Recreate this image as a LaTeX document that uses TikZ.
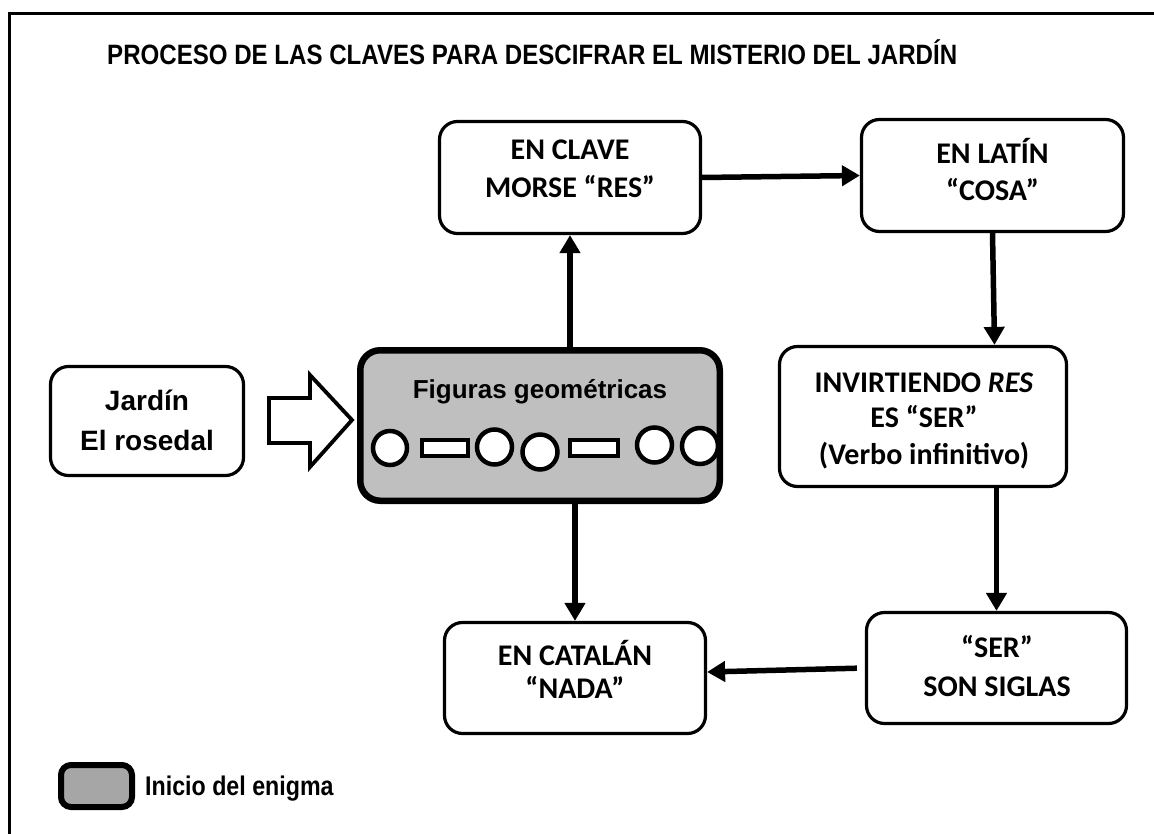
\documentclass[tikz,border=0pt]{standalone}
\usepackage{fontspec}
\setmainfont{Liberation Sans}
\newfontfamily\narrowfont{Liberation Sans}[FakeStretch=0.86]
\newfontfamily\legfont{Liberation Sans}[FakeStretch=0.86]
\newfontfamily\calfont{Carlito}
\usetikzlibrary{arrows.meta,calc}
\definecolor{boxgray}{HTML}{BFBFBF}
\definecolor{legendgray}{HTML}{A6A6A6}
\begin{document}
\begin{tikzpicture}[x=1pt,y=-1pt,
  box/.style={draw, line width=3.2pt, rounded corners=18pt, fill=white, inner sep=0pt},
  boxtxt/.style={inner sep=0pt, anchor=base, font=\calfont\bfseries\fontsize{30}{36}\selectfont},
  sanstxt/.style={inner sep=0pt, anchor=base, font=\bfseries\fontsize{28}{40}\selectfont},
  arr/.style={line width=5.5pt, -{Triangle[length=18pt,width=20pt]}},
  figshape/.style={line width=4.5pt, draw=black, fill=white}
]
\useasboundingbox (0,0) rectangle (1154,834);
% outer frame (only top and left visible)
\draw[line width=3pt] (9,850) -- (9,14) -- (1170,14);
% title
\node[inner sep=0pt, anchor=base west, font=\narrowfont\bfseries\fontsize{28}{32}\selectfont] (title) at (107,65) {PROCESO DE LAS CLAVES PARA DESCIFRAR EL MISTERIO DEL JARDÍN};
% boxes
\node[box, minimum width=261, minimum height=112] (morse) at (570,177.5) {};
\node[boxtxt] (morse1) at (570,160) {EN CLAVE};
\node[boxtxt] (morse2) at (570,198) {MORSE “RES”};
\node[box, minimum width=262, minimum height=112] (latin) at (992.5,175.5) {};
\node[boxtxt] (latin1) at (992.5,164) {EN LATÍN};
\node[boxtxt] (latin2) at (992.5,201) {“COSA”};
\node[box, minimum width=287, minimum height=140] (inv) at (923,416.5) {};
\node[boxtxt] (inv1) at (924,392) {INVIRTIENDO \textit{RES}};
\node[boxtxt] (inv2) at (924,427) {ES “SER”};
\node[boxtxt] (inv3) at (924,464) {(Verbo infinitivo)};
\node[box, minimum width=260, minimum height=111] (ser) at (996.5,668) {};
\node[boxtxt] (ser1) at (997,657) {“SER”};
\node[boxtxt] (ser2) at (997,696) {SON SIGLAS};
\node[box, minimum width=261, minimum height=111] (cat) at (575,678) {};
\node[boxtxt] (cat1) at (575,665) {EN CATALÁN};
\node[boxtxt] (cat2) at (575,698) {“NADA”};
\node[box, minimum width=193, minimum height=109] (jardin) at (147,421) {};
\node[sanstxt] (jt1) at (147,410) {Jardín};
\node[sanstxt] (jt2) at (147,450) {El rosedal};
% central box
\node[draw, line width=6.5pt, rounded corners=20pt, fill=boxgray, minimum width=359.5, minimum height=150.5, inner sep=0pt] (center) at (540,425.5) {};
\node[inner sep=0pt, anchor=base, font=\bfseries\fontsize{26}{30}\selectfont] (figtext) at (540,398) {Figuras geométricas};
\draw[figshape] (390,448) circle[radius=17];
\draw[figshape] (422,440) rectangle (468,456);
\draw[figshape] (494.5,447) circle[radius=17.5];
\draw[figshape] (540,452) circle[radius=17.5];
\draw[figshape] (570,440) rectangle (618,456);
\draw[figshape] (654.5,445) circle[radius=17.5];
\draw[figshape] (700,446) circle[radius=18];
% hollow arrow
\draw[line width=3.8pt, fill=white, line join=miter] (269,398) -- (310,398) -- (310,375) -- (352,420) -- (310,467) -- (310,443) -- (269,443) -- cycle;
% connectors
\draw[arr] (morse.south |- center.north) -- (morse.south);
\draw[arr] (morse.east) -- (latin.west);
\draw[arr] (latin.south) -- ($(latin.south |- inv.north)+(2,0)$);
\draw[arr] (ser.north |- inv.south) -- (ser.north);
\draw[arr, shorten <=8pt] (ser.west) -- ($(cat.east |- ser.west)+(0,4)$);
\draw[arr] (cat.north |- center.south) -- (cat.north);
% legend
\node[draw, line width=6pt, rounded corners=10pt, fill=legendgray, minimum width=71, minimum height=42, inner sep=0pt] (legbox) at (96.5,786) {};
\node[inner sep=0pt, anchor=base west, font=\legfont\bfseries\fontsize{27}{30}\selectfont] (legtext) at (145,795) {Inicio del enigma};
\end{tikzpicture}
\end{document}
